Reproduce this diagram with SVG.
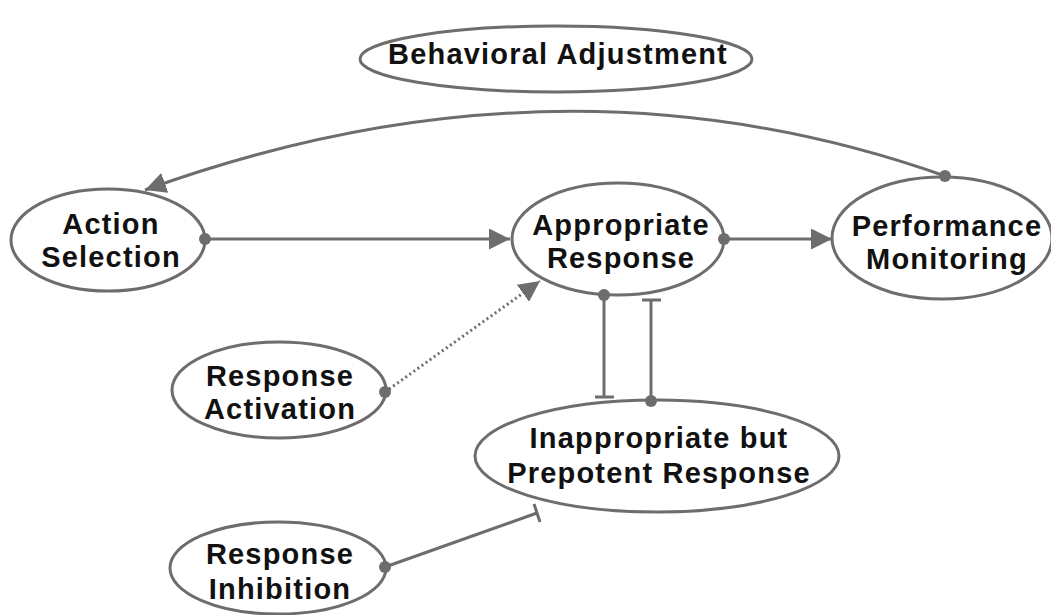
<svg xmlns="http://www.w3.org/2000/svg" width="1051" height="615" viewBox="0 0 1051 615">
<style>
.n ellipse{fill:#fff;stroke:#6e6c6c;stroke-width:3}
.n text{font-family:"Liberation Sans",Arial,sans-serif;font-weight:bold;font-size:29px;letter-spacing:1.2px;fill:#111;text-anchor:middle}
.c path,.c line{fill:none;stroke:#6e6c6c;stroke-width:3}
.c circle{fill:#6e6c6c}
</style>
<defs>
<marker id="arr" viewBox="0 0 10 10" refX="10" refY="5" markerWidth="7" markerHeight="7" markerUnits="strokeWidth" orient="auto">
<path d="M0,0 L10,5 L0,10 Z" fill="#6e6c6c"/>
</marker>
</defs>
<rect width="1051" height="615" fill="#fff"/>
<g id="behavioral-adjustment" class="n">
<ellipse cx="556" cy="59" rx="196" ry="33"/>
<text x="558" y="64">Behavioral Adjustment</text>
</g>
<g id="action-selection" class="n">
<ellipse cx="108" cy="240" rx="97" ry="51"/>
<text x="111" y="234">Action</text>
<text x="111" y="267">Selection</text>
</g>
<g id="appropriate-response" class="n">
<ellipse cx="618" cy="239" rx="106" ry="56"/>
<text x="621" y="235">Appropriate</text>
<text x="621" y="268">Response</text>
</g>
<g id="performance-monitoring" class="n">
<ellipse cx="942" cy="238" rx="110" ry="61"/>
<text x="947" y="236">Performance</text>
<text x="947" y="269">Monitoring</text>
</g>
<g id="response-activation" class="n">
<ellipse cx="279" cy="390" rx="107" ry="48"/>
<text x="280" y="386">Response</text>
<text x="280" y="419">Activation</text>
</g>
<g id="inappropriate-response" class="n">
<ellipse cx="657" cy="456" rx="182" ry="56"/>
<text x="659" y="448">Inappropriate but</text>
<text x="659" y="483">Prepotent Response</text>
</g>
<g id="response-inhibition" class="n">
<ellipse cx="278" cy="568" rx="108" ry="46"/>
<text x="280" y="564">Response</text>
<text x="280" y="599">Inhibition</text>
</g>
<g id="connectors" class="c">
<line x1="205" y1="239" x2="510" y2="239" marker-end="url(#arr)"/>
<circle cx="205" cy="239" r="6"/>
<line x1="724" y1="239" x2="832" y2="239" marker-end="url(#arr)"/>
<circle cx="724" cy="239" r="6"/>
<path d="M945,176 Q560,40 145,190" marker-end="url(#arr)"/>
<circle cx="945" cy="176" r="6"/>
<line x1="385" y1="392" x2="540" y2="281" stroke-dasharray="2,3" marker-end="url(#arr)"/>
<circle cx="385" cy="392" r="6"/>
<line x1="604" y1="295" x2="604" y2="397"/>
<line x1="595" y1="397" x2="614" y2="397"/>
<circle cx="604" cy="295" r="6"/>
<line x1="651" y1="401" x2="651" y2="300"/>
<line x1="642" y1="300" x2="661" y2="300"/>
<circle cx="651" cy="401" r="6"/>
<line x1="385" y1="567" x2="537" y2="513"/>
<line x1="534" y1="504" x2="540" y2="522"/>
<circle cx="385" cy="567" r="6"/>
</g>
</svg>
